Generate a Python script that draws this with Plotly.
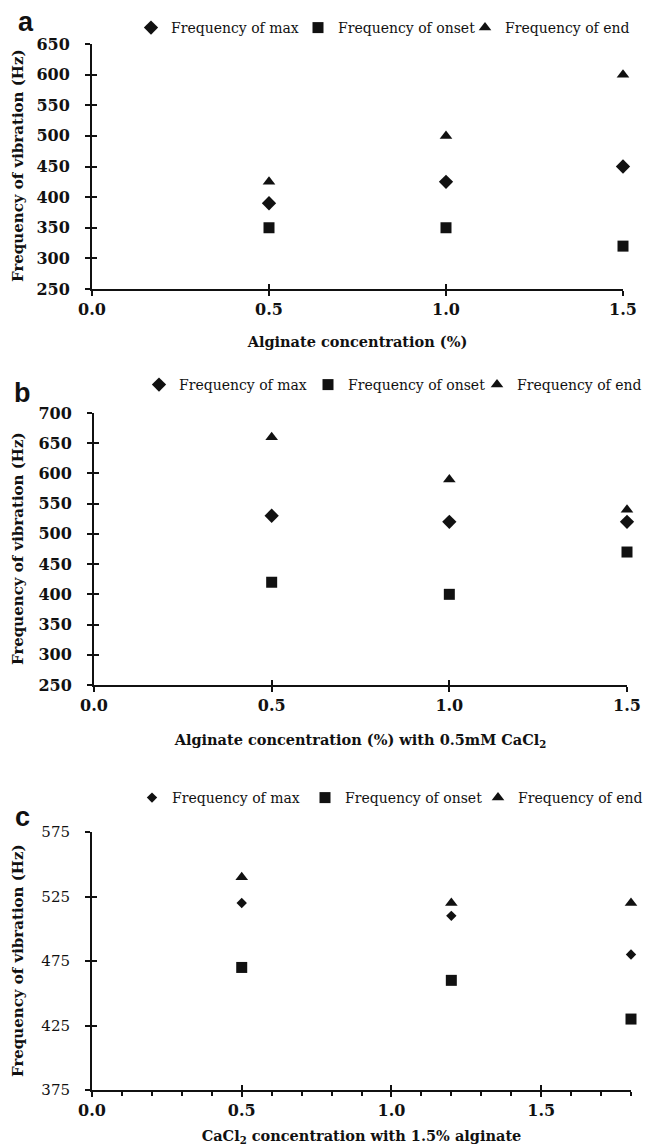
import plotly.graph_objects as go

# ---------------- data ----------------
x_ab = [0.5, 1.0, 1.5]
a_max = [390, 425, 450]
a_onset = [350, 350, 320]
a_end = [425, 500, 600]

b_max = [530, 520, 520]
b_onset = [420, 400, 470]
b_end = [660, 590, 540]

x_c = [0.5, 1.2, 1.8]
c_max = [520, 510, 480]
c_onset = [470, 460, 430]
c_end = [540, 520, 520]

series_names = ["Frequency of max", "Frequency of onset", "Frequency of end"]
symbols = ["diamond", "square", "triangle-up"]

W, H = 648, 1146
SERIF = "DejaVu Serif"
BLACK = "#111111"


def px_x(p):
    return p / W


def px_y(p):
    return 1 - p / H


fig = go.Figure()

panels = [
    dict(key="", x=x_ab, ys=[a_max, a_onset, a_end], legend="legend",
         sizes=[11, 11, 11]),
    dict(key="2", x=x_ab, ys=[b_max, b_onset, b_end], legend="legend2",
         sizes=[11, 11, 11]),
    dict(key="3", x=x_c, ys=[c_max, c_onset, c_end], legend="legend3",
         sizes=[8, 11, 11]),
]

for p in panels:
    for name, sym, ys, sz in zip(series_names, symbols, p["ys"], p["sizes"]):
        fig.add_trace(go.Scatter(
            x=p["x"], y=ys, mode="markers", name=name,
            marker=dict(symbol=sym, size=sz, color=BLACK),
            xaxis="x" + p["key"], yaxis="y" + p["key"],
            legend=p["legend"], cliponaxis=False,
        ))

# domains in pixels
dom = {
    "": dict(x=(92, 623), y=(289, 44)),
    "2": dict(x=(94, 627), y=(685, 413)),
    "3": dict(x=(92, 631), y=(1090, 832)),
}
ranges = {
    "": dict(x=[0, 1.5], y=[250, 650], ydt=50, y0=250),
    "2": dict(x=[0, 1.5], y=[250, 700], ydt=50, y0=250),
    "3": dict(x=[0, 1.8], y=[375, 575], ydt=50, y0=375),
}
xtitles = {
    "": "Alginate concentration (%)",
    "2": "Alginate concentration (%) with 0.5mM CaCl<sub>2</sub>",
    "3": "CaCl<sub>2</sub> concentration with 1.5% alginate",
}
xstandoff = {"": 19, "2": 21, "3": 15}

layout = {}
overlay_idx = {"": ("4", "5"), "2": ("6", "7"), "3": ("8", "9")}
for k in ["", "2", "3"]:
    d = dom[k]
    r = ranges[k]
    xd = [px_x(d["x"][0]), px_x(d["x"][1])]
    yd = [px_y(d["y"][0]), px_y(d["y"][1])]
    if k == "3":
        ytick_font = dict(family=SERIF, size=15, color=BLACK)
    else:
        ytick_font = dict(family=SERIF, size=16, color=BLACK, weight="bold")
    xa = dict(
        domain=xd, range=r["x"], anchor="y" + k, automargin=False,
        showline=True, linecolor=BLACK, linewidth=2,
        showgrid=False, zeroline=False,
        ticks="outside", ticklen=5, tickwidth=2, tickcolor=BLACK,
        tick0=0, dtick=0.5, tickformat=".1f",
        tickfont=dict(family=SERIF, size=16, color=BLACK, weight="bold"),
        title=dict(text="<b>" + xtitles[k] + "</b>",
                   font=dict(family=SERIF, size=14.5, color=BLACK),
                   standoff=xstandoff[k]),
    )
    if k == "3":
        xa["minor"] = dict(dtick=0.1, tick0=0, ticks="outside", ticklen=4,
                           tickwidth=1.5, tickcolor=BLACK, showgrid=False)
    ya = dict(
        domain=yd, range=r["y"], anchor="x" + k, automargin=False,
        showline=True, linecolor=BLACK, linewidth=2,
        showgrid=False, zeroline=False,
        ticks="outside", ticklen=5, tickwidth=2, tickcolor=BLACK,
        tick0=r["y0"], dtick=r["ydt"],
        tickfont=ytick_font,
        ticklabelstandoff=12,
    )
    layout["xaxis" + k] = xa
    layout["yaxis" + k] = ya
    # overlay axes to draw the inner half of crossing ticks
    ox, oy = overlay_idx[k]
    layout["xaxis" + ox] = dict(
        domain=xd, range=r["x"], anchor="y" + k, overlaying="x" + k,
        automargin=False,
        showline=False, showgrid=False, zeroline=False, showticklabels=False,
        ticks="inside", ticklen=5, tickwidth=2, tickcolor=BLACK,
        tick0=0, dtick=0.5,
    )
    layout["yaxis" + oy] = dict(
        domain=yd, range=r["y"], anchor="x" + k, overlaying="y" + k,
        automargin=False,
        showline=False, showgrid=False, zeroline=False, showticklabels=False,
        ticks="inside", ticklen=5, tickwidth=2, tickcolor=BLACK,
        tick0=r["y0"], dtick=r["ydt"],
    )

# invisible traces to activate overlay axes
for k in ["", "2", "3"]:
    ox, oy = overlay_idx[k]
    fig.add_trace(go.Scatter(x=[None], y=[None], xaxis="x" + ox, yaxis="y" + k,
                             showlegend=False, hoverinfo="skip"))
    fig.add_trace(go.Scatter(x=[None], y=[None], xaxis="x" + k, yaxis="y" + oy,
                             showlegend=False, hoverinfo="skip"))

leg_font = dict(family=SERIF, size=14, color=BLACK)
legend_common = dict(orientation="h", xanchor="left", yanchor="middle",
                     bgcolor="rgba(0,0,0,0)", font=leg_font,
                     entrywidthmode="pixels",
                     itemclick=False, itemdoubleclick=False)
layout["legend"] = dict(legend_common, x=px_x(131), y=px_y(28), entrywidth=122)
layout["legend2"] = dict(legend_common, x=px_x(139), y=px_y(385), entrywidth=124)
layout["legend3"] = dict(legend_common, x=px_x(132), y=px_y(798), entrywidth=128)

# y-axis titles and panel letters as annotations
annotations = []
for k, (yc) in zip(["", "2", "3"], [166, 549, 961]):
    annotations.append(dict(
        text="<b>Frequency of vibration (Hz)</b>", xref="paper", yref="paper",
        x=px_x(18), y=px_y(yc), textangle=-90, showarrow=False,
        xanchor="center", yanchor="middle",
        font=dict(family=SERIF, size=15, color=BLACK)))
for letter, (lx, ly) in zip(["a", "b", "c"], [(26, 22), (22, 393), (22, 817)]):
    annotations.append(dict(
        text="<b>" + letter + "</b>", xref="paper", yref="paper",
        x=px_x(lx), y=px_y(ly), showarrow=False,
        xanchor="center", yanchor="middle",
        font=dict(family="Liberation Sans", size=27, color=BLACK)))

fig.update_layout(
    width=W, height=H,
    margin=dict(l=0, r=0, t=0, b=0, autoexpand=False),
    paper_bgcolor="white", plot_bgcolor="white",
    annotations=annotations,
    hovermode=False,
    **layout,
)

fig.write_html(
    "out.html",
    config={"displayModeBar": False},
    post_script="document.body.style.margin='0px';"
                "document.body.style.overflow='hidden';",
)
